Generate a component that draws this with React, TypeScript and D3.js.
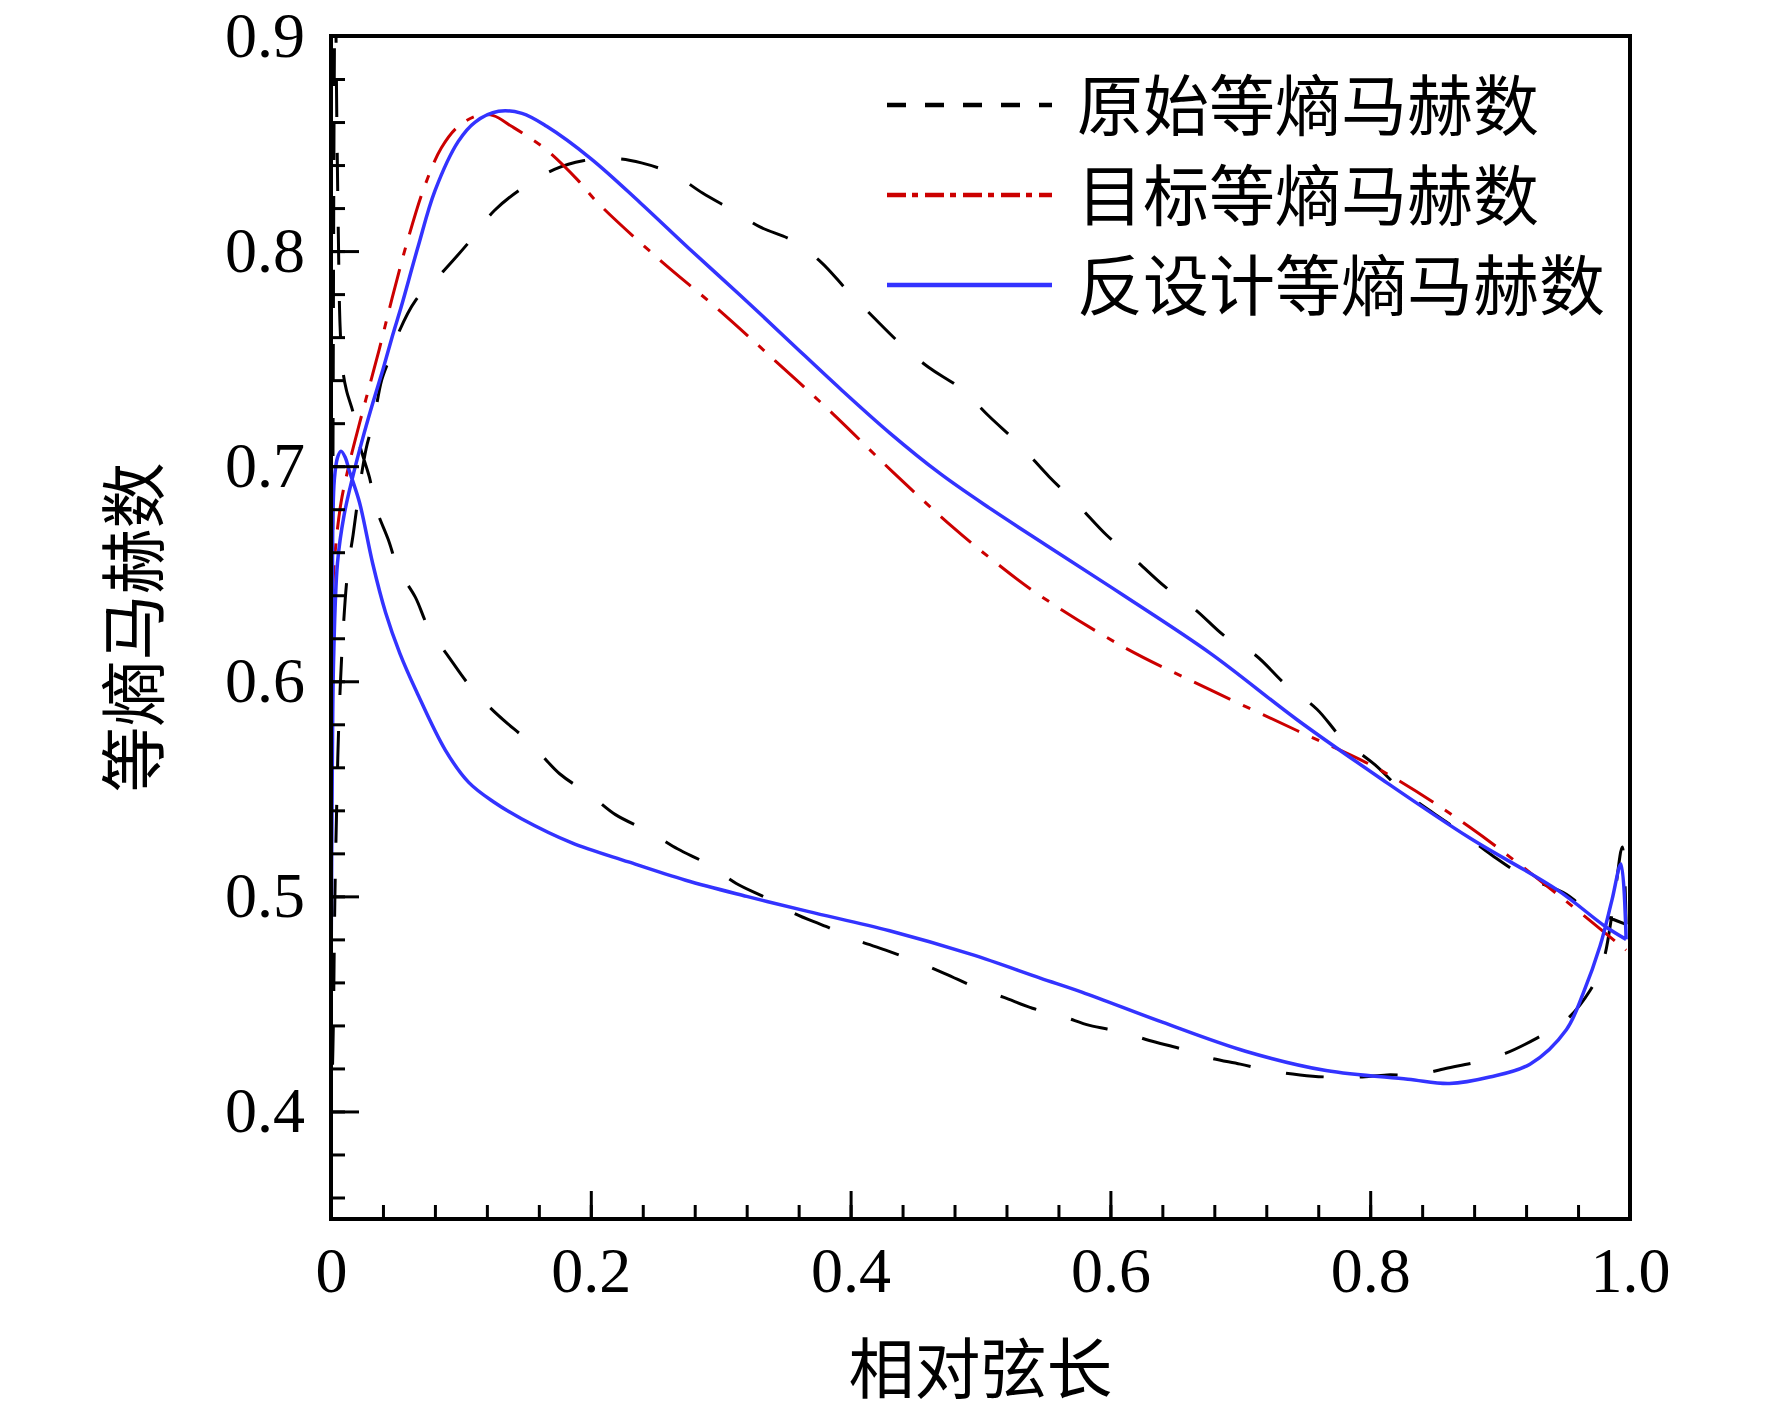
import React, { useEffect, useRef } from 'react';
import * as d3 from 'd3';

type Pt = [number, number];

// 原始: suction side (upper branch), leading edge -> trailing edge
const origUpper: Pt[] = [
    [0.0, 0.40], [0.0015, 0.43], [0.003, 0.50], [0.0045, 0.545], [0.006, 0.58],
    [0.009, 0.62], [0.013, 0.652], [0.017, 0.668], [0.022, 0.69], [0.027, 0.708],
    [0.033, 0.722], [0.039, 0.74], [0.045, 0.75], [0.052, 0.762], [0.065, 0.777],
    [0.087, 0.791], [0.106, 0.804], [0.126, 0.819], [0.149, 0.83], [0.172, 0.838],
    [0.194, 0.842], [0.219, 0.843], [0.239, 0.841], [0.263, 0.836], [0.286, 0.827],
    [0.309, 0.819], [0.331, 0.811], [0.355, 0.805], [0.377, 0.795], [0.397, 0.782],
    [0.418, 0.769], [0.44, 0.756], [0.46, 0.746], [0.485, 0.736], [0.507, 0.723],
    [0.53, 0.71], [0.553, 0.695], [0.575, 0.682], [0.597, 0.668], [0.62, 0.656],
    [0.642, 0.644], [0.666, 0.633], [0.688, 0.621], [0.712, 0.612], [0.734, 0.599],
    [0.759, 0.587], [0.779, 0.573], [0.804, 0.561], [0.825, 0.549], [0.86, 0.534],
    [0.874, 0.528], [0.894, 0.519], [0.917, 0.51], [0.951, 0.501], [0.962, 0.496],
    [0.98, 0.491], [0.997, 0.487],
];

// 原始: pressure side (lower branch)
const origLower: Pt[] = [
    [0.0, 0.40], [0.0015, 0.70], [0.0025, 0.88], [0.0032, 0.93], [0.0045, 0.86],
    [0.0056, 0.81], [0.007, 0.765], [0.009, 0.745], [0.012, 0.735], [0.017, 0.725],
    [0.022, 0.71], [0.0295, 0.695], [0.035, 0.68], [0.044, 0.666], [0.052, 0.652],
    [0.065, 0.639], [0.075, 0.625], [0.091, 0.611], [0.108, 0.597], [0.129, 0.584],
    [0.154, 0.571], [0.176, 0.557], [0.2, 0.547], [0.219, 0.538], [0.245, 0.53],
    [0.267, 0.522], [0.29, 0.515], [0.312, 0.506], [0.336, 0.499], [0.357, 0.492],
    [0.381, 0.486], [0.403, 0.48], [0.427, 0.475], [0.449, 0.47], [0.473, 0.464],
    [0.495, 0.458], [0.518, 0.453], [0.54, 0.448], [0.564, 0.444], [0.584, 0.44],
    [0.609, 0.437], [0.63, 0.433], [0.655, 0.429], [0.676, 0.425], [0.7, 0.422],
    [0.722, 0.419], [0.746, 0.417], [0.767, 0.416], [0.791, 0.416], [0.813, 0.417],
    [0.836, 0.417], [0.858, 0.42], [0.882, 0.423], [0.904, 0.427], [0.928, 0.434],
    [0.95, 0.442], [0.969, 0.456], [0.979, 0.469], [0.987, 0.495], [0.994, 0.523],
    [0.997, 0.487],
];

// 目标: suction side only
const targetUpper: Pt[] = [
    [0.0, 0.60], [0.0015, 0.645], [0.0038, 0.664], [0.0077, 0.683], [0.014, 0.701],
    [0.022, 0.72], [0.0295, 0.737], [0.037, 0.754], [0.047, 0.778], [0.059, 0.805],
    [0.072, 0.83], [0.085, 0.848], [0.098, 0.858], [0.113, 0.863], [0.125, 0.863],
    [0.139, 0.858], [0.147, 0.855], [0.166, 0.847], [0.19, 0.833], [0.2045, 0.823],
    [0.251, 0.797], [0.296, 0.774], [0.342, 0.749], [0.387, 0.724], [0.433, 0.697],
    [0.478, 0.672], [0.51, 0.656], [0.543, 0.641], [0.61, 0.616], [0.677, 0.596],
    [0.744, 0.577], [0.81, 0.558], [0.877, 0.532], [0.944, 0.501], [0.997, 0.475],
];

// 反设计: suction side
const designUpper: Pt[] = [
    [0.0, 0.46], [0.001, 0.56], [0.002, 0.61], [0.005, 0.655], [0.01, 0.677],
    [0.0167, 0.695], [0.024, 0.712], [0.032, 0.729], [0.04, 0.745], [0.0475, 0.761],
    [0.054, 0.774], [0.067, 0.802], [0.08, 0.828], [0.098, 0.851], [0.111, 0.86],
    [0.129, 0.865], [0.147, 0.864], [0.166, 0.858], [0.2, 0.843], [0.238, 0.8225],
    [0.276, 0.801], [0.315, 0.7795], [0.353, 0.758], [0.392, 0.736], [0.43, 0.7155],
    [0.469, 0.6965], [0.507, 0.6805], [0.55, 0.6635], [0.61, 0.64], [0.677, 0.613],
    [0.744, 0.582], [0.81, 0.554], [0.877, 0.527], [0.944, 0.503], [0.981, 0.486],
    [0.997, 0.48],
];

// 反设计: pressure side
const designLower: Pt[] = [
    [0.0, 0.46], [0.0013, 0.67], [0.0026, 0.694], [0.005, 0.704], [0.0077, 0.707],
    [0.011, 0.704], [0.014, 0.698], [0.022, 0.683], [0.032, 0.655], [0.042, 0.632],
    [0.053, 0.613], [0.066, 0.595], [0.088, 0.568], [0.106, 0.553], [0.125, 0.544],
    [0.147, 0.536], [0.185, 0.525], [0.229, 0.516], [0.273, 0.5075], [0.32, 0.5],
    [0.367, 0.493], [0.43, 0.484], [0.493, 0.473], [0.546, 0.462], [0.578, 0.4555],
    [0.64, 0.4415], [0.704, 0.428], [0.766, 0.419], [0.829, 0.415], [0.861, 0.413],
    [0.892, 0.416], [0.923, 0.422], [0.951, 0.438], [0.964, 0.455], [0.977, 0.477],
    [0.986, 0.498], [0.993, 0.515], [0.997, 0.48],
];

const xTicks = [0, 0.2, 0.4, 0.6, 0.8, 1.0];
const yTicks = [0.4, 0.5, 0.6, 0.7, 0.8, 0.9];
const legendLabels = ['原始等熵马赫数', '目标等熵马赫数', '反设计等熵马赫数'];
const xTitle = '相对弦长';
const yTitle = '等熵马赫数';

const W = 1772;
const H = 1415;
const SERIF = '"Liberation Serif", "Times New Roman", serif';
const CJK = '"Noto Sans CJK SC", sans-serif';

const App: React.FC = () => {
    const ref = useRef<SVGSVGElement>(null);

    useEffect(() => {
        if (!ref.current) return;
        const svg = d3.select(ref.current);
        svg.selectAll('*').remove();

        const left = 331, right = 1630, top = 36, bottom = 1219;

        const x = d3.scaleLinear().domain([0, 1]).range([left, right]);
        const y = d3.scaleLinear().domain([0.35, 0.9]).range([bottom, top]);

        svg.append('rect').attr('width', W).attr('height', H).attr('fill', '#fff');

        svg.append('defs').append('clipPath').attr('id', 'plot-clip')
            .append('rect')
            .attr('x', left).attr('y', top)
            .attr('width', right - left).attr('height', bottom - top);

        const line = d3.line<Pt>()
            .x(d => x(d[0]))
            .y(d => y(d[1]))
            .curve(d3.curveCatmullRom.alpha(0.5));

        // closed loops: pressure side reversed, then suction side
        const origLoop = [...origLower].reverse().concat(origUpper.slice(1));
        const designLoop = [...designLower].reverse().concat(designUpper.slice(1));

        const g = svg.append('g').attr('clip-path', 'url(#plot-clip)');

        g.append('path')
            .attr('d', line(origLoop) || '')
            .attr('fill', 'none')
            .attr('stroke', '#000')
            .attr('stroke-width', 3)
            .attr('stroke-dasharray', '38 36');

        g.append('path')
            .attr('d', line(targetUpper) || '')
            .attr('fill', 'none')
            .attr('stroke', '#cc0000')
            .attr('stroke-width', 3)
            .attr('stroke-dasharray', '40 14 8 14');

        g.append('path')
            .attr('d', line(designLoop) || '')
            .attr('fill', 'none')
            .attr('stroke', '#3333ff')
            .attr('stroke-width', 3.5);

        // axes: ticks point inward
        const fmt = (d: d3.NumberValue) => (+d === 0 ? '0' : d3.format('.1f')(+d));

        const xMinor = d3.range(0, 1.0001, 0.04);
        const yMinor = d3.range(0.36, 0.9001, 0.02);

        svg.append('g')
            .attr('transform', `translate(0,${bottom})`)
            .call(d3.axisBottom(x).tickValues(xMinor).tickSize(-14).tickSizeOuter(0).tickFormat(() => ''))
            .call(a => a.select('.domain').remove());

        svg.append('g')
            .attr('transform', `translate(0,${bottom})`)
            .call(d3.axisBottom(x).tickValues(xTicks).tickSize(-28).tickSizeOuter(0).tickPadding(28).tickFormat(fmt))
            .call(a => a.select('.domain').remove());

        svg.append('g')
            .attr('transform', `translate(${left},0)`)
            .call(d3.axisLeft(y).tickValues(yMinor).tickSize(-14).tickSizeOuter(0).tickFormat(() => ''))
            .call(a => a.select('.domain').remove());

        svg.append('g')
            .attr('transform', `translate(${left},0)`)
            .call(d3.axisLeft(y).tickValues(yTicks).tickSize(-28).tickSizeOuter(0).tickPadding(26).tickFormat(fmt))
            .call(a => a.select('.domain').remove());

        svg.selectAll('.tick line').attr('stroke', '#000').attr('stroke-width', 3);
        svg.selectAll('.tick text')
            .attr('fill', '#000')
            .style('font-family', SERIF)
            .style('font-size', '64px');

        // frame
        svg.append('rect')
            .attr('x', left).attr('y', top)
            .attr('width', right - left).attr('height', bottom - top)
            .attr('fill', 'none')
            .attr('stroke', '#000')
            .attr('stroke-width', 4);

        // axis titles
        svg.append('text')
            .attr('x', (left + right) / 2)
            .attr('y', 1393)
            .attr('text-anchor', 'middle')
            .style('font-family', CJK)
            .style('font-size', '66px')
            .text(xTitle);

        svg.append('text')
            .attr('transform', `translate(158,${(top + bottom) / 2}) rotate(-90)`)
            .attr('text-anchor', 'middle')
            .style('font-family', CJK)
            .style('font-size', '66px')
            .text(yTitle);

        // legend
        const legendStyles = [
            { color: '#000', dash: '19 19', width: 4.5 },
            { color: '#cc0000', dash: '19 6 6 7', width: 4.5 },
            { color: '#3333ff', dash: null, width: 4.5 },
        ];
        const legendY = [105, 195, 285];
        legendLabels.forEach((label, i) => {
            const s = legendStyles[i];
            svg.append('line')
                .attr('x1', 887).attr('x2', 1052)
                .attr('y1', legendY[i]).attr('y2', legendY[i])
                .attr('stroke', s.color)
                .attr('stroke-width', s.width)
                .attr('stroke-dasharray', s.dash);
            svg.append('text')
                .attr('x', 1077)
                .attr('y', legendY[i] + 25)
                .style('font-family', CJK)
                .style('font-size', '66px')
                .text(label);
        });
    }, []);

    return (
        <svg
            ref={ref}
            width={W}
            height={H}
            style={{ position: 'absolute', left: 0, top: 0, background: '#fff' }}
        />
    );
};

export default App;
